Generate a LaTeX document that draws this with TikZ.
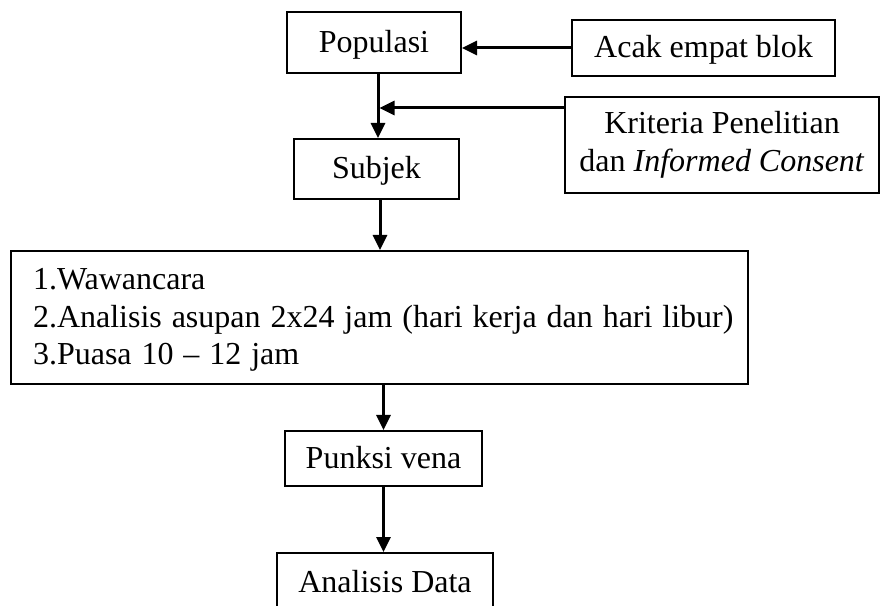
\documentclass[tikz,border=0pt]{standalone}
\usepackage{fontspec}
\setmainfont{Liberation Serif}
\usetikzlibrary{arrows.meta}
\newcommand{\boxtop}{\rule{0pt}{27pt}}
\newcommand{\boxbottom}{\rule[-7pt]{0pt}{0pt}}
\begin{document}
\begin{tikzpicture}[x=1pt,y=1pt]
\tikzstyle{box} = [draw=black, line width=2pt, inner sep=0pt, align=center, font=\fontsize{32}{37.5}\selectfont,
  execute at begin node=\boxtop, execute at end node=\boxbottom]
\tikzstyle{flow} = [line width=3pt, -{Triangle[length=15pt,width=14pt]}]

\useasboundingbox (0,0) rectangle (880,605);
\clip (0,0) rectangle (880,605);

\node (Populasi) [box, minimum width=174pt, minimum height=61pt] at (374,562.5) {Populasi};
\node (Acak) [box, minimum width=263pt, minimum height=56pt] at (703.5,557) {Acak empat blok};
\node (Kriteria) [box, minimum width=314pt, minimum height=96pt] at (722,460) {Kriteria Penelitian\\dan \textit{Informed Consent}};
\node (Subjek) [box, minimum width=165pt, minimum height=60pt] at (376.5,436) {Subjek};
\node (Tahap) [box, align=flush left, text width=729pt, inner xsep=4pt, minimum height=133pt] at (379.5,287.5)
  {\spaceskip=0.31em plus 0.1em\hspace*{18pt}1.Wawancara\\\hspace*{18pt}2.Analisis asupan 2x24 jam (hari kerja dan hari libur)\\\hspace*{18pt}3.Puasa 10 – 12 jam};
\node (Punksi) [box, minimum width=197pt, minimum height=55pt] at (383.5,146.5) {Punksi vena};
\node (Data) [box, minimum width=216pt, minimum height=59pt] at (385,22.5) {Analisis Data};

\coordinate (Join) at (378,497);

\draw [flow] (Acak.west) -- (Acak.west -| Populasi.east);
\draw [flow] (Join |- Populasi.south) -- (Join |- Subjek.north);
\draw [flow] (Kriteria.west |- Join) -- ([xshift=1.5pt]Join);
\draw [flow] ([xshift=3.5pt]Subjek.south) -- ([xshift=3.5pt]Subjek.south |- Tahap.north);
\draw [flow] (Punksi.north |- Tahap.south) -- (Punksi.north);
\draw [flow] (Punksi.south) -- (Punksi.south |- Data.north);

\end{tikzpicture}
\end{document}
